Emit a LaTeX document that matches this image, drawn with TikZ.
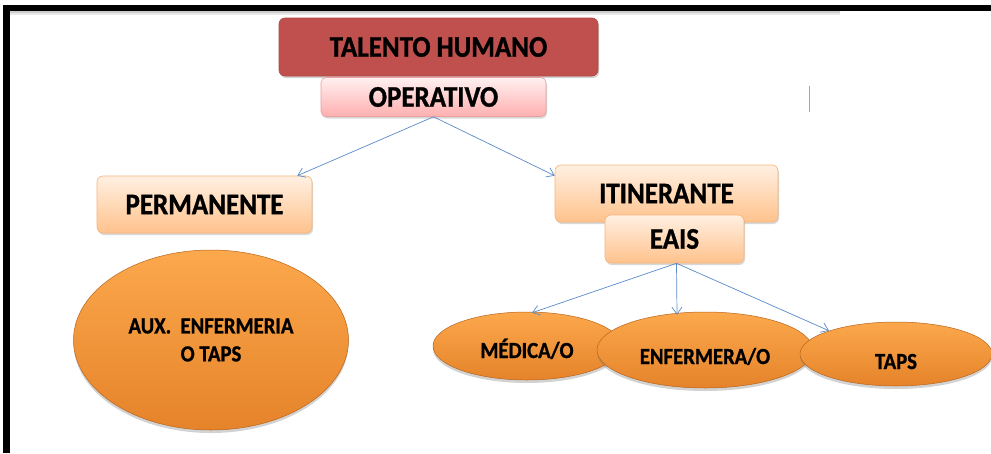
\documentclass[tikz,border=0pt]{standalone}
\usepackage{fontspec}
\setmainfont[FakeStretch=0.9,BoldFeatures={FakeBold=1}]{Carlito}
\usetikzlibrary{shapes.geometric,shadows,arrows.meta,calc}
\definecolor{arrowblue}{HTML}{5B8BC9}
\definecolor{thred}{HTML}{C0504D}
\definecolor{thredb}{HTML}{B04845}
\definecolor{pinktop}{HTML}{FFF0F0}
\definecolor{pinkbot}{HTML}{FFAFAF}
\definecolor{pinkdraw}{HTML}{E8A0A0}
\definecolor{peachtop}{HTML}{FFF0E2}
\definecolor{peachbot}{HTML}{FFC28C}
\definecolor{peachdraw}{HTML}{F7B47A}
\definecolor{orgtop}{HTML}{FCA84C}
\definecolor{orgbot}{HTML}{E5832A}
\definecolor{orgdraw}{HTML}{B9651C}
\tikzset{
  lbl/.style={text=black},
  bigtxt/.style={font=\bfseries\fontsize{30}{34}\selectfont},
  elltxt/.style={font=\bfseries\fontsize{23}{28}\selectfont},
  lowtxt/.style={text height=#1, text depth=0pt},
  redbox/.style={draw=thredb, fill=thred, rounded corners=6pt, line width=0.6pt,
     drop shadow={shadow xshift=1pt, shadow yshift=-2pt, opacity=0.35}},
  pinkbox/.style={draw=pinkdraw, top color=pinktop, bottom color=pinkbot, rounded corners=5pt, line width=0.6pt,
     drop shadow={shadow xshift=1pt, shadow yshift=-2pt, opacity=0.3}},
  peachbox/.style={draw=peachdraw, top color=peachtop, bottom color=peachbot, rounded corners=6pt, line width=0.6pt,
     drop shadow={shadow xshift=1pt, shadow yshift=-2pt, opacity=0.3}},
  orgell/.style={ellipse, draw=orgdraw, top color=orgtop, bottom color=orgbot, line width=0.5pt, inner sep=0pt,
     drop shadow={shadow xshift=0pt, shadow yshift=-3pt, opacity=0.35}},
  conn/.style={draw=arrowblue, line width=0.7pt, -{Straight Barb[length=7pt,width=10pt]}},
}
\begin{document}
\begin{tikzpicture}[x=1pt,y=-1pt]
\useasboundingbox (0,0) rectangle (991,453);
\fill[white] (0,0) rectangle (991,453);
% frame
\fill[gray!40] (10,11) rectangle (840,13);
\fill[gray!18] (10,13) rectangle (840,15);
\fill[black] (3,5) rectangle (991,11);
\fill[black] (3,5) rectangle (10,453);
\draw[gray!70, line width=1pt] (809,86) -- (809,112);
% boxes
\node[redbox, minimum width=319pt, minimum height=58pt, lbl, bigtxt] (th) at (438.5,47) {TALENTO HUMANO};
\node[pinkbox, minimum width=225pt, minimum height=39pt, lbl, bigtxt] (op) at (433.5,97) {OPERATIVO};
\node[peachbox, minimum width=215pt, minimum height=57pt, lbl, bigtxt] (pe) at (204.5,204.5) {PERMANENTE};
\node[peachbox, minimum width=223pt, minimum height=57pt, lbl, bigtxt] (it) at (666.5,193.5) {ITINERANTE};
\node[peachbox, minimum width=139pt, minimum height=48pt, lbl, bigtxt] (ea) at (674.5,239) {EAIS};
% ellipses
\node[orgell, minimum width=275pt, minimum height=180pt, lbl, align=center, elltxt] (aux) at (211,340) {AUX.\ \ ENFERMERIA\\O TAPS};
\node[orgell, minimum width=188pt, minimum height=68pt, lbl, elltxt, lowtxt=24pt] (me) at (527,346) {MÉDICA/O};
\node[orgell, minimum width=216pt, minimum height=76pt, lbl, elltxt, lowtxt=28pt] (en) at (705,350) {ENFERMERA/O};
\node[orgell, minimum width=192pt, minimum height=64pt, lbl, elltxt, lowtxt=30pt] (ta) at (896,354) {TAPS};
% connectors
\draw[conn] (op.south) -- ($(pe.north east)+(-15,0)$);
\draw[conn] (op.south) -- ($(it.north west)+(0,11)$);
\draw[conn] ($(ea.south)+(2,0)$) -- ($(me.north)+(5,1)$);
\draw[conn] ($(ea.south)+(2,0)$) -- ($(en.north)+(-28,3)$);
\draw[conn] ($(ea.south)+(2,0)$) -- ($(ta.north)+(-67,9)$);
\end{tikzpicture}
\end{document}
